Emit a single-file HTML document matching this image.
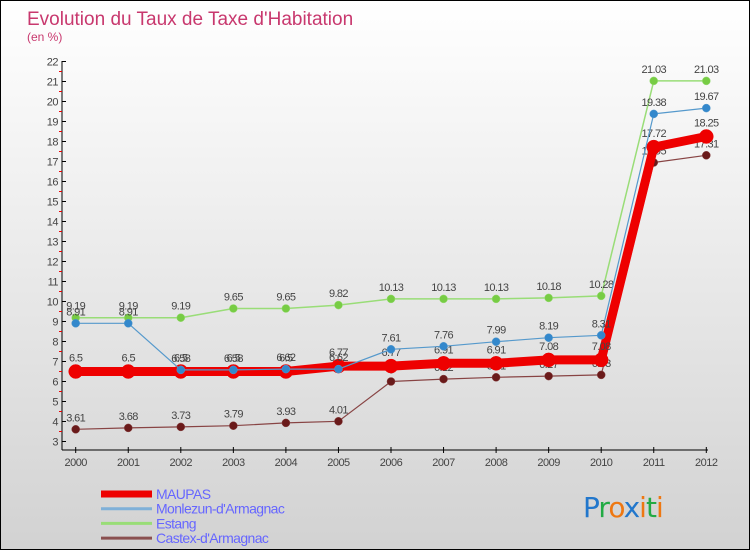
<!DOCTYPE html>
<html><head><meta charset="utf-8"><style>
body{margin:0;width:750px;height:550px;overflow:hidden;font-family:"Liberation Sans",sans-serif}
#wrap{position:relative;width:748px;height:548px;border:1px solid #000;background:linear-gradient(#ffffff,#f2f2f2 30%,#d2d2d2)}
svg{position:absolute;left:0;top:0}
</style></head><body>
<div id="wrap">
<svg id="chart" width="750" height="550"></svg>
</div>
<script>
const years=["2000","2001","2002","2003","2004","2005","2006","2007","2008","2009","2010","2011","2012"];
const yTicks=[3,4,5,6,7,8,9,10,11,12,13,14,15,16,17,18,19,20,21,22];
const maupas=[6.5,6.5,6.5,6.5,6.5,6.77,6.77,6.91,6.91,7.08,7.08,17.72,18.25];
const monlezun=[8.91,8.91,6.58,6.58,6.62,6.62,7.61,7.76,7.99,8.19,8.31,19.38,19.67];
const estang=[9.19,9.19,9.19,9.65,9.65,9.82,10.13,10.13,10.13,10.18,10.28,21.03,21.03];
const castex=[3.61,3.68,3.73,3.79,3.93,4.01,6,6.12,6.21,6.27,6.33,16.95,17.31];
const seriesNames=["MAUPAS","Monlezun-d'Armagnac","Estang","Castex-d'Armagnac"];

const NS="http://www.w3.org/2000/svg";
const svg=document.getElementById('chart');
function X(i){return 74.7+i*52.55;}
function Y(v){return 440.5-(v-3)*20;}
function el(tag,attrs,parent){const e=document.createElementNS(NS,tag);for(const k in attrs)e.setAttribute(k,attrs[k]);(parent||svg).appendChild(e);return e;}
function txt(x,y,s,attrs){const t=el('text',Object.assign({x:x,y:y},attrs));t.textContent=s;return t;}

// title
let t=txt(26,24,"Evolution du Taux de Taxe d'Habitation",{'font-size':19,fill:'#c8386e'});

t=txt(26,40,"(en %)",{'font-size':12,fill:'#c8386e'});


// y axis
let a=el('line',{x1:61,y1:60,x2:61,y2:449,stroke:'#000','stroke-width':1});

yTicks.forEach(v=>{
  el('line',{x1:61,y1:Y(v),x2:65,y2:Y(v),stroke:'#000'});
  if(v<22) el('line',{x1:58,y1:Y(v+0.5),x2:61,y2:Y(v+0.5),stroke:'#e00'});
  const l=txt(57,Y(v)+4,String(v),{'font-size':11,fill:'#444','text-anchor':'end','letter-spacing':'-0.5'});
  
});
// x axis
a=el('line',{x1:61,y1:449,x2:707,y2:449,stroke:'#000'});

years.forEach((y,i)=>{
  el('line',{x1:X(i),y1:446,x2:X(i),y2:452,stroke:'#000'});
  const l=txt(X(i),465,y,{'font-size':11,fill:'#444','text-anchor':'middle','letter-spacing':'-0.5'});
  
});

function series(vals,name,color,dot,w,r,dy){
  const g=el('g',{});
  
  el('polyline',{points:vals.map((v,i)=>X(i)+','+Y(v)).join(' '),fill:'none',stroke:color,'stroke-width':w,'stroke-linejoin':'round'},g);
  vals.forEach((v,i)=>{
    const c=el('circle',{cx:X(i),cy:Y(v),r:r,fill:dot,stroke:color,'stroke-width':0.5},g);
    
  });
  vals.forEach((v,i)=>{
    const l=txt(X(i),Y(v)-dy,String(v),{'font-size':11,fill:'#444','text-anchor':'middle','letter-spacing':'-0.6'},g);
    
  });
}
series(estang,'estang','#99dd77','#77cc44',1.5,4,8);
series(castex,'castex','#884444','#6a1a1a',1.2,4,8);
series(maupas,'maupas','#ee0000','#ee0000',9,7,10);
series(monlezun,'monlezun','#5599cc','#3388cc',1.2,4,8);

// legend
const lc=['#ee0000','#7fb0d8','#99dd77','#8a5050'],lw=[7,3,3,3];
seriesNames.forEach((n,i)=>{
  const g=el('g',{});
  
  const yy=493+i*14.7;
  el('line',{x1:100,y1:yy,x2:151,y2:yy,stroke:lc[i],'stroke-width':lw[i]},g);
  txt(155,yy+5,n,{'font-size':14,fill:'#6666ff','letter-spacing':'-0.6'},g);
});
// logo
const lg=el('text',{x:582,y:516,'font-size':28,'font-family':'"DejaVu Sans",sans-serif','letter-spacing':'-1'});

[['P','#2277cc'],['r','#22aa44'],['o','#ee7711'],['x','#2277cc'],['i','#ee7711'],['t','#22aa44'],['i','#ee7711']].forEach(([c,f])=>{
  const s=el('tspan',{fill:f},lg);s.textContent=c;});
</script>
</body></html>
